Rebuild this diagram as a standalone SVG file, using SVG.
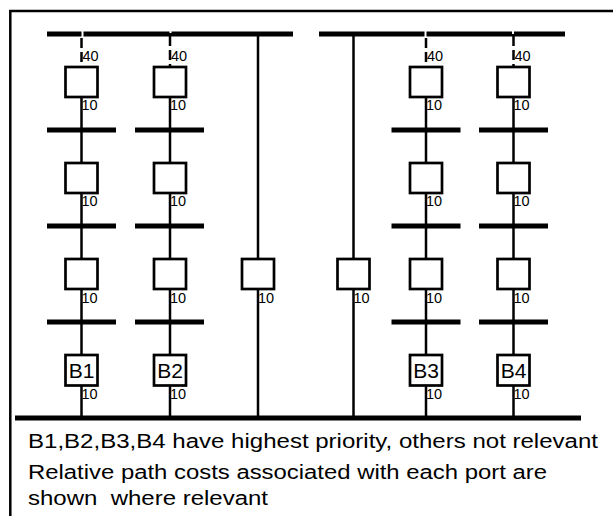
<svg xmlns="http://www.w3.org/2000/svg" width="613" height="516" viewBox="0 0 613 516">
<style>
.frame{fill:none;stroke:#000;stroke-width:2.5}
.lan{stroke:#000;stroke-width:5;stroke-linecap:butt}
.bridge{fill:#fff;stroke:#000;stroke-width:2.7}
.link{stroke:#000;stroke-width:2.5;fill:none}
.blocked{stroke:#000;stroke-width:2.5;fill:none;stroke-dasharray:10 4}
.notch{stroke:#fff;stroke-width:2}
.cost{font-family:"Liberation Sans",Arial,sans-serif;font-size:14.5px;fill:#000}
.bname{font-family:"Liberation Sans",Arial,sans-serif;font-size:21px;fill:#000;text-anchor:middle}
.note{font-family:"Liberation Sans",Arial,sans-serif;font-size:19.5px;fill:#000}
</style>
<rect width="613" height="516" fill="#fff"/>
<path class="frame" d="M10.3,516 V11 H613"/>

<g id="connectors">
  <line class="blocked" x1="81.5" y1="38" x2="81.5" y2="66"/>
  <line class="link" x1="81.5" y1="98" x2="81.5" y2="162"/>
  <line class="link" x1="81.5" y1="194" x2="81.5" y2="258"/>
  <line class="link" x1="81.5" y1="290" x2="81.5" y2="354"/>
  <line class="link" x1="81.5" y1="386" x2="81.5" y2="418"/>
  <line class="blocked" x1="170" y1="33" x2="170" y2="66" stroke-dashoffset="-3"/>
  <line class="link" x1="170" y1="98" x2="170" y2="162"/>
  <line class="link" x1="170" y1="194" x2="170" y2="258"/>
  <line class="link" x1="170" y1="290" x2="170" y2="354"/>
  <line class="link" x1="170" y1="386" x2="170" y2="418"/>
  <line class="link" x1="258" y1="34" x2="258" y2="258"/>
  <line class="link" x1="258" y1="290" x2="258" y2="418"/>
  <line class="link" x1="353.5" y1="34" x2="353.5" y2="258"/>
  <line class="link" x1="353.5" y1="290" x2="353.5" y2="418"/>
  <line class="blocked" x1="426" y1="38" x2="426" y2="66"/>
  <line class="link" x1="426" y1="98" x2="426" y2="162"/>
  <line class="link" x1="426" y1="194" x2="426" y2="258"/>
  <line class="link" x1="426" y1="290" x2="426" y2="354"/>
  <line class="link" x1="426" y1="386" x2="426" y2="418"/>
  <line class="blocked" x1="513.5" y1="33" x2="513.5" y2="66" stroke-dashoffset="-3"/>
  <line class="link" x1="513.5" y1="98" x2="513.5" y2="162"/>
  <line class="link" x1="513.5" y1="194" x2="513.5" y2="258"/>
  <line class="link" x1="513.5" y1="290" x2="513.5" y2="354"/>
  <line class="link" x1="513.5" y1="386" x2="513.5" y2="418"/>
</g>

<g id="lan-top-left"><line class="lan" x1="47" y1="34" x2="293" y2="34"/></g>
<g id="lan-top-right"><line class="lan" x1="319" y1="34" x2="565" y2="34"/></g>
<g id="lan-bottom"><line class="lan" x1="15" y1="418" x2="581" y2="418"/></g>

<g id="notches">
  <line class="notch" x1="82.5" y1="31" x2="82.5" y2="37"/>
  <line class="notch" x1="170.5" y1="31" x2="170.5" y2="33"/>
  <line class="notch" x1="425.5" y1="31" x2="425.5" y2="37"/>
  <line class="notch" x1="513" y1="31" x2="513" y2="34"/>
</g>

<g id="lan-c1-1"><line class="lan" x1="47" y1="130" x2="116" y2="130"/></g>
<g id="lan-c1-2"><line class="lan" x1="47" y1="226" x2="116" y2="226"/></g>
<g id="lan-c1-3"><line class="lan" x1="47" y1="322" x2="116" y2="322"/></g>
<g id="lan-c2-1"><line class="lan" x1="135" y1="130" x2="204" y2="130"/></g>
<g id="lan-c2-2"><line class="lan" x1="135" y1="226" x2="204" y2="226"/></g>
<g id="lan-c2-3"><line class="lan" x1="135" y1="322" x2="204" y2="322"/></g>
<g id="lan-c5-1"><line class="lan" x1="391.5" y1="130" x2="460.5" y2="130"/></g>
<g id="lan-c5-2"><line class="lan" x1="391.5" y1="226" x2="460.5" y2="226"/></g>
<g id="lan-c5-3"><line class="lan" x1="391.5" y1="322" x2="460.5" y2="322"/></g>
<g id="lan-c6-1"><line class="lan" x1="479" y1="130" x2="548" y2="130"/></g>
<g id="lan-c6-2"><line class="lan" x1="479" y1="226" x2="548" y2="226"/></g>
<g id="lan-c6-3"><line class="lan" x1="479" y1="322" x2="548" y2="322"/></g>

<g id="br-c1-1"><rect class="bridge" x="65.5" y="67" width="32" height="30"/><text class="cost" x="82.5" y="61">40</text><text class="cost" x="81.5" y="110">10</text></g>
<g id="br-c1-2"><rect class="bridge" x="65.5" y="163" width="32" height="30"/><text class="cost" x="81.5" y="206">10</text></g>
<g id="br-c1-3"><rect class="bridge" x="65.5" y="259" width="32" height="30"/><text class="cost" x="81.5" y="302.5">10</text></g>
<g id="br-B1"><rect class="bridge" x="65.5" y="355" width="32" height="30.5"/><text class="bname" x="81.5" y="378">B1</text><text class="cost" x="81.5" y="398.5">10</text></g>
<g id="br-c2-1"><rect class="bridge" x="154" y="67" width="32" height="30"/><text class="cost" x="171" y="61">40</text><text class="cost" x="170" y="110">10</text></g>
<g id="br-c2-2"><rect class="bridge" x="154" y="163" width="32" height="30"/><text class="cost" x="170" y="206">10</text></g>
<g id="br-c2-3"><rect class="bridge" x="154" y="259" width="32" height="30"/><text class="cost" x="170" y="302.5">10</text></g>
<g id="br-B2"><rect class="bridge" x="154" y="355" width="32" height="30.5"/><text class="bname" x="170" y="378">B2</text><text class="cost" x="170" y="398.5">10</text></g>
<g id="br-c3"><rect class="bridge" x="242" y="259" width="32" height="30"/><text class="cost" x="258" y="302.5">10</text></g>
<g id="br-c4"><rect class="bridge" x="337.5" y="259" width="32" height="30"/><text class="cost" x="353.5" y="302.5">10</text></g>
<g id="br-c5-1"><rect class="bridge" x="410" y="67" width="32" height="30"/><text class="cost" x="427" y="61">40</text><text class="cost" x="426" y="110">10</text></g>
<g id="br-c5-2"><rect class="bridge" x="410" y="163" width="32" height="30"/><text class="cost" x="426" y="206">10</text></g>
<g id="br-c5-3"><rect class="bridge" x="410" y="259" width="32" height="30"/><text class="cost" x="426" y="302.5">10</text></g>
<g id="br-B3"><rect class="bridge" x="410" y="355" width="32" height="30.5"/><text class="bname" x="426" y="378">B3</text><text class="cost" x="426" y="398.5">10</text></g>
<g id="br-c6-1"><rect class="bridge" x="497.5" y="67" width="32" height="30"/><text class="cost" x="514.5" y="61">40</text><text class="cost" x="513.5" y="110">10</text></g>
<g id="br-c6-2"><rect class="bridge" x="497.5" y="163" width="32" height="30"/><text class="cost" x="513.5" y="206">10</text></g>
<g id="br-c6-3"><rect class="bridge" x="497.5" y="259" width="32" height="30"/><text class="cost" x="513.5" y="302.5">10</text></g>
<g id="br-B4"><rect class="bridge" x="497.5" y="355" width="32" height="30.5"/><text class="bname" x="513.5" y="378">B4</text><text class="cost" x="513.5" y="398.5">10</text></g>

<g id="notes">
  <text class="note" x="28" y="448" textLength="570" lengthAdjust="spacingAndGlyphs">B1,B2,B3,B4 have highest priority, others not relevant</text>
  <text class="note" x="28" y="479" textLength="519" lengthAdjust="spacingAndGlyphs">Relative path costs associated with each port are</text>
  <text class="note" x="28" y="505" textLength="240" lengthAdjust="spacingAndGlyphs" xml:space="preserve">shown  where relevant</text>
</g>
</svg>
